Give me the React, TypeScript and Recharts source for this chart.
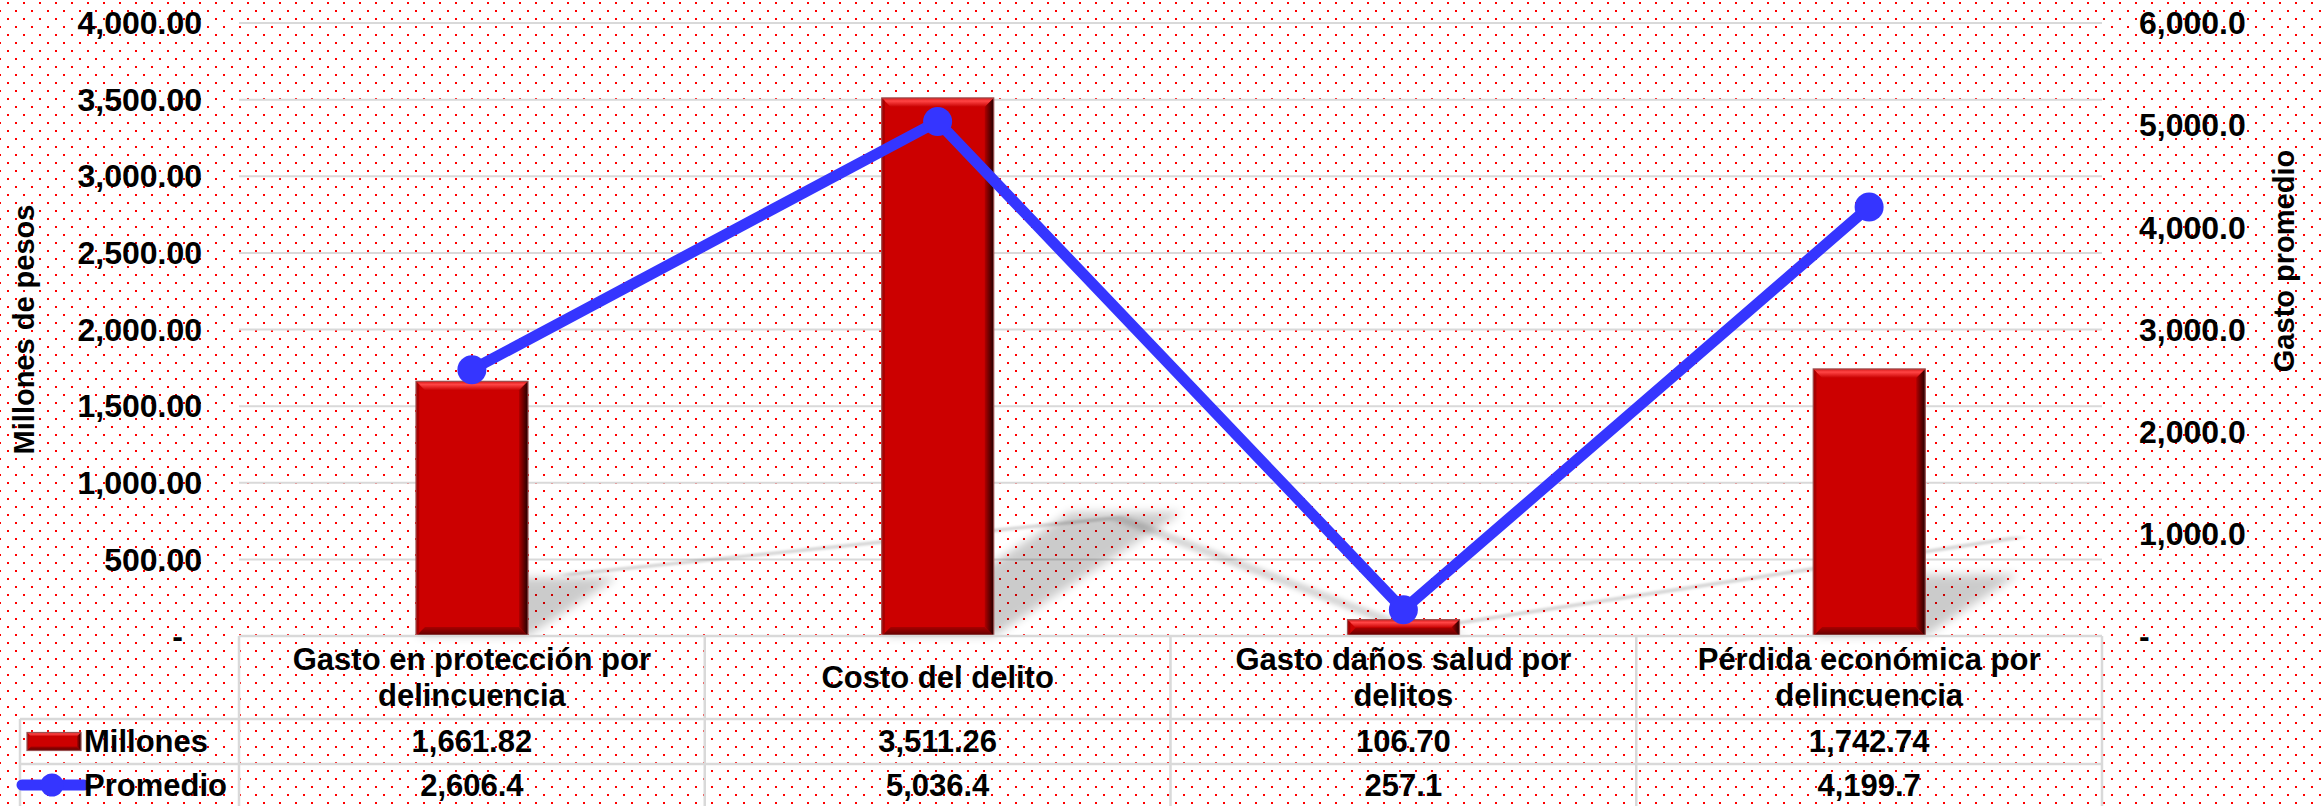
import React from "react"
import { ComposedChart, Bar, Line, XAxis, YAxis, CartesianGrid } from "recharts"

const categories = [
  "Gasto en protección por\ndelincuencia",
  "Costo del delito",
  "Gasto daños salud por\ndelitos",
  "Pérdida económica por\ndelincuencia",
]
const millones = [1661.82, 3511.26, 106.7, 1742.74]
const promedio = [2606.4, 5036.4, 257.1, 4199.7]
const leftTicks = [0, 500, 1000, 1500, 2000, 2500, 3000, 3500, 4000]
const rightTicks = [0, 1000, 2000, 3000, 4000, 5000, 6000]
const seriesNames = ["Millones", "Promedio"]
const axisTitles = ["Millones de pesos", "Gasto promedio"]

const data = categories.map((name, i) => ({ name, millones: millones[i], promedio: promedio[i] }))

// layout
const W = 2321
const H = 806
const PLOT_L = 239
const PLOT_R = 2102
const PLOT_T = 23
const PLOT_B = 636
const AXIS_W = 200
const ROW1 = 719
const ROW2 = 764
const LEG_L = 20
const GRID = "#D9D9D9"
const RED = "#CC0000"
const BLUE = "#3535FF"
const FONT = "'Liberation Sans', Arial, sans-serif"
const FS = 31
// perspective shadow: (x, y) -> (x + SKX*(B-y), B - SKY*(B-y))
const SKX = 0.35
const SKY = 0.23

const fmt = (v: number, d: number) =>
  v.toLocaleString("en-US", { minimumFractionDigits: d, maximumFractionDigits: d })

const dotsBg =
  "url(\"data:image/svg+xml,%3Csvg xmlns='http://www.w3.org/2000/svg' width='16' height='16'%3E%3Crect x='8' y='2' width='2' height='2' fill='%23FF0000'/%3E%3Crect x='0' y='10' width='2' height='2' fill='%23FF0000'/%3E%3C/svg%3E\")"

function BevelRect({ x, y, w, h, b = 9 }: { x: number; y: number; w: number; h: number; b?: number }) {
  const e = Math.min(b, h / 2, w / 2)
  const l = e * 0.35
  return (
    <g>
      <rect x={x} y={y} width={w} height={h} fill={RED} />
      <polygon points={`${x},${y} ${x + w},${y} ${x + w - e},${y + e} ${x + e},${y + e}`} fill="url(#bevelTop)" />
      <polygon points={`${x},${y + h} ${x + w},${y + h} ${x + w - e},${y + h - e} ${x + e},${y + h - e}`} fill="url(#bevelBottom)" />
      <polygon points={`${x + w},${y} ${x + w},${y + h} ${x + w - e},${y + h - e} ${x + w - e},${y + e}`} fill="url(#bevelRight)" />
      <polygon points={`${x},${y} ${x},${y + h} ${x + l},${y + h - l} ${x + l},${y + l}`} fill="#A80000" />
      <rect x={x} y={y} width={w} height={h} fill="none" stroke="#9A5050" strokeWidth={1.2} />
    </g>
  )
}

function BarShape(props: any) {
  const { x, y, width: w, height: h } = props
  if (!h || h <= 0) return null
  const base = y + h
  const sx = SKX * h
  const sy = SKY * h
  return (
    <g>
      <polygon
        points={`${x},${base} ${x + w},${base} ${x + w + sx},${base - sy} ${x + sx},${base - sy}`}
        fill="#000"
        opacity={0.2}
        filter="url(#shadowBlur)"
      />
      <BevelRect x={x} y={y} w={w} h={h} />
    </g>
  )
}

function LeftTick({ x, y, payload }: any) {
  const v = payload.value
  return (
    <text x={x} y={y} dx={v === 0 ? -19 : 0} dy="0.35em" textAnchor="end" fontSize={FS + 1} fill="#000">
      {v === 0 ? "-" : fmt(v, 2)}
    </text>
  )
}

function RightTick({ x, y, payload }: any) {
  const v = payload.value
  return (
    <text x={x} y={y} dy="0.35em" textAnchor="start" fontSize={FS + 1} fill="#000">
      {v === 0 ? "-" : fmt(v, 1)}
    </text>
  )
}

function TableTick({ x, y, payload }: any) {
  const i = payload.index
  const colW = (PLOT_R - PLOT_L) / categories.length
  const left = x - colW / 2
  const right = x + colW / 2
  const lines = String(payload.value).split("\n")
  const mid = (y + ROW1) / 2
  const lh = 36
  const r1 = (ROW1 + ROW2) / 2
  const r2 = (ROW2 + H) / 2
  return (
    <g>
      <line x1={right} y1={y} x2={right} y2={H} stroke={GRID} strokeWidth={2.5} />
      {i === 0 && <line x1={left} y1={y} x2={left} y2={H} stroke={GRID} strokeWidth={2.5} />}
      <line x1={left} y1={ROW1} x2={right} y2={ROW1} stroke={GRID} strokeWidth={2.5} />
      <line x1={left} y1={ROW2} x2={right} y2={ROW2} stroke={GRID} strokeWidth={2.5} />
      {lines.map((t, k) => (
        <text key={k} x={x} y={mid + (k - (lines.length - 1) / 2) * lh} dy="0.35em" textAnchor="middle" fontSize={FS} fill="#000">
          {t}
        </text>
      ))}
      <text x={x} y={r1} dy="0.35em" textAnchor="middle" fontSize={FS} fill="#000">
        {fmt(millones[i], 2)}
      </text>
      <text x={x} y={r2} dy="0.35em" textAnchor="middle" fontSize={FS} fill="#000">
        {fmt(promedio[i], 1)}
      </text>
      {i === 0 && (
        <g>
          <line x1={LEG_L} y1={ROW1} x2={left} y2={ROW1} stroke={GRID} strokeWidth={2.5} />
          <line x1={LEG_L} y1={ROW2} x2={left} y2={ROW2} stroke={GRID} strokeWidth={2.5} />
          <line x1={LEG_L} y1={ROW1} x2={LEG_L} y2={H} stroke={GRID} strokeWidth={2.5} />
          <BevelRect x={LEG_L + 7} y={r1 - 9} w={54} h={18} b={4} />
          <text x={84} y={r1} dy="0.35em" fontSize={FS} fill="#000">{seriesNames[0]}</text>
          <line x1={LEG_L + 2} y1={r2} x2={84} y2={r2} stroke={BLUE} strokeWidth={11} strokeLinecap="round" />
          <circle cx={52} cy={r2} r={11.5} fill={BLUE} />
          <text x={84} y={r2} dy="0.35em" fontSize={FS} fill="#000">{seriesNames[1]}</text>
        </g>
      )}
    </g>
  )
}

export default function App() {
  const shadowMatrix = `matrix(1, 0, ${-SKX}, ${SKY}, ${SKX * PLOT_B}, ${(1 - SKY) * PLOT_B})`
  return (
    <div
      style={{
        position: "absolute",
        left: 0,
        top: 0,
        width: W,
        height: H,
        backgroundColor: "#fff",
        backgroundImage: dotsBg,
        backgroundPosition: "-1px 0",
        fontFamily: FONT,
        fontWeight: 700,
        overflow: "hidden",
      }}
    >
      <style>{`
        .line-shadow { transform: ${shadowMatrix}; }
        .line-shadow path, path.line-shadow { filter: url(#lineShadowBlur); }
      `}</style>
      <ComposedChart
        width={W}
        height={H}
        data={data}
        margin={{ top: PLOT_T, left: PLOT_L - AXIS_W, right: W - PLOT_R - AXIS_W, bottom: 0 }}
        barCategoryGap="38%"
      >
        <defs>
          <linearGradient id="bevelTop" x1="0" y1="0" x2="0" y2="1">
            <stop offset="0%" stopColor="#D81818" />
            <stop offset="35%" stopColor="#FF4545" />
            <stop offset="100%" stopColor="#C80000" />
          </linearGradient>
          <linearGradient id="bevelBottom" x1="0" y1="0" x2="0" y2="1">
            <stop offset="0%" stopColor="#A80000" />
            <stop offset="100%" stopColor="#5A0000" />
          </linearGradient>
          <linearGradient id="bevelRight" x1="0" y1="0" x2="1" y2="0">
            <stop offset="0%" stopColor="#B00000" />
            <stop offset="100%" stopColor="#220000" />
          </linearGradient>
          <filter id="shadowBlur" x="-50%" y="-50%" width="200%" height="200%">
            <feGaussianBlur stdDeviation="5" />
          </filter>
          <filter id="lineShadowBlur" x="-20%" y="-50%" width="140%" height="200%">
            <feGaussianBlur stdDeviation="5" />
          </filter>
        </defs>
        <CartesianGrid yAxisId="left" vertical={false} stroke={GRID} strokeWidth={2} />
        <XAxis
          dataKey="name"
          height={H - PLOT_B}
          interval={0}
          tickLine={false}
          tickSize={0}
          tickMargin={0}
          axisLine={{ stroke: GRID, strokeWidth: 2.5 }}
          tick={<TableTick />}
        />
        <YAxis
          yAxisId="left"
          width={AXIS_W}
          domain={[0, 4000]}
          ticks={leftTicks}
          interval={0}
          axisLine={false}
          tickLine={false}
          tickSize={0}
          tickMargin={37}
          tick={<LeftTick />}
        />
        <YAxis
          yAxisId="right"
          orientation="right"
          width={AXIS_W}
          domain={[0, 6000]}
          ticks={rightTicks}
          interval={0}
          axisLine={false}
          tickLine={false}
          tickSize={0}
          tickMargin={37}
          tick={<RightTick />}
        />
        <Line
          yAxisId="right"
          dataKey="promedio"
          className="line-shadow"
          stroke="#000"
          strokeOpacity={0.16}
          strokeWidth={16}
          dot={false}
          activeDot={false}
          legendType="none"
          isAnimationActive={false}
          zIndex={250}
        />
        <Bar yAxisId="left" dataKey="millones" name={seriesNames[0]} shape={<BarShape />} isAnimationActive={false} />
        <Line
          yAxisId="right"
          dataKey="promedio"
          name={seriesNames[1]}
          stroke={BLUE}
          strokeWidth={11}
          dot={{ r: 14.5, fill: BLUE, stroke: "none" }}
          activeDot={false}
          isAnimationActive={false}
        />
      </ComposedChart>
      <svg width={W} height={H} style={{ position: "absolute", left: 0, top: 0, pointerEvents: "none" }}>
        <text x={24} y={(PLOT_T + PLOT_B) / 2} dy="0.35em" textAnchor="middle" fontSize={29} fill="#000"
          transform={`rotate(-90, 24, ${(PLOT_T + PLOT_B) / 2})`}>
          {axisTitles[0]}
        </text>
        <text x={2284} y={261} dy="0.35em" textAnchor="middle" fontSize={29} fill="#000"
          transform="rotate(-90, 2284, 261)">
          {axisTitles[1]}
        </text>
      </svg>
    </div>
  )
}
